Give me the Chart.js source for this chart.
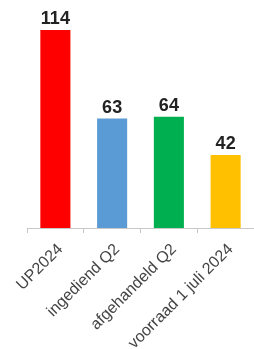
<!DOCTYPE html>
<html>
<head>
<meta charset="utf-8">
<script src="https://cdn.jsdelivr.net/npm/chart.js@4/dist/chart.umd.min.js"></script>
<style>
    body { margin: 0; background: #fff; }
    #wrap { width: 254px; height: 349px; position: relative; }
</style>
</head>
<body>
<div id="wrap"><canvas id="chart"></canvas></div>
<script>
var categories = ["UP2024", "ingediend Q2", "afgehandeld Q2", "voorraad 1 juli 2024"];
var values = [114, 63, 64, 42];
var barColors = ["#ff0000", "#5b9bd5", "#00b050", "#ffc000"];

// draws the number above each bar
var valueLabels = {
    id: "valueLabels",
    afterDatasetsDraw: function (chart) {
        var ctx = chart.ctx;
        var meta = chart.getDatasetMeta(0);
        ctx.save();
        ctx.font = "bold 18px 'Liberation Sans', Arial, sans-serif";
        ctx.fillStyle = "#222";
        ctx.textAlign = "center";
        ctx.textBaseline = "middle";
        meta.data.forEach(function (bar, i) {
            ctx.fillText(String(values[i]), bar.x, bar.y - 11);
        });
        ctx.restore();
    }
};

function LoadChart(id) {
    const data = {
        labels: categories,
        datasets: [{
            data: values,
            backgroundColor: barColors,
            borderWidth: 0,
            barPercentage: 0.53,
            categoryPercentage: 1
        }]
    };
    const options = {
        responsive: true,
        maintainAspectRatio: false,
        animation: false,
        layout: { padding: { left: 27, top: 30, right: 0, bottom: 0 } },
        plugins: {
            legend: { display: false },
            tooltip: { enabled: false }
        },
        scales: {
            x: {
                grid: {
                    drawOnChartArea: false,
                    drawTicks: true,
                    tickLength: 5,
                    color: "#c8c8c8"
                },
                border: { color: "#c8c8c8" },
                ticks: {
                    minRotation: 45,
                    maxRotation: 45,
                    autoSkip: false,
                    padding: 7,
                    labelOffset: 5,
                    color: "#444",
                    font: { family: "'Liberation Sans', Arial, sans-serif", size: 16 }
                },
                afterFit: function (scale) {
                    scale.height = 121;
                    scale.paddingLeft = 0;
                    scale.paddingRight = 0;
                }
            },
            y: {
                display: false,
                min: 0,
                max: 114
            }
        }
    };
    new Chart(document.getElementById(id), {
        type: "bar",
        data: data,
        options: options,
        plugins: [valueLabels]
    });
}

LoadChart("chart");
</script>
</body>
</html>
